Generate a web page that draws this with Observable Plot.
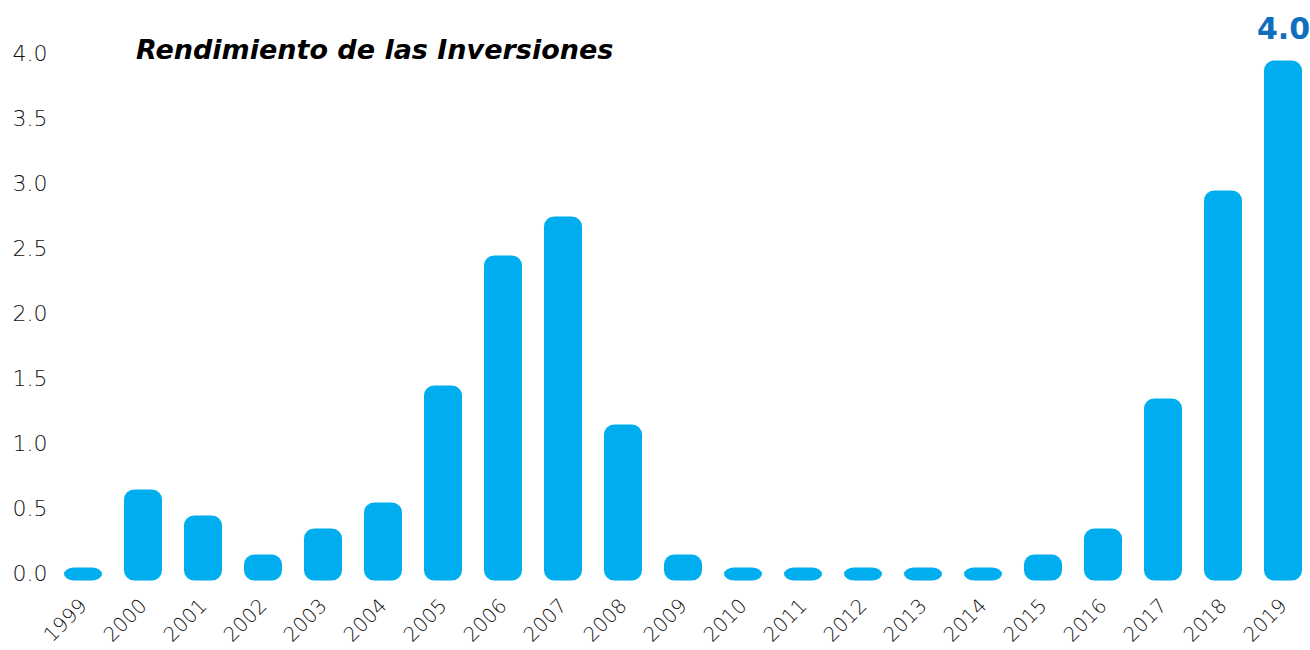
<!DOCTYPE html>
<html>
<head>
<meta charset="utf-8">
<script src="https://cdn.jsdelivr.net/npm/d3@7"></script>
<script src="https://cdn.jsdelivr.net/npm/@observablehq/plot@0.6"></script>
<style>
  html, body { margin: 0; padding: 0; background: #fff; }
  #wrap { position: relative; width: 1310px; height: 650px; }
  #title { position: absolute; left: 136px; top: 34px; font-family: "DejaVu Sans", sans-serif; font-weight: 700; font-style: italic; font-size: 27px; color: #000; }
  svg g[aria-label$="axis tick label"] text { font-weight: 200; }
  svg g[aria-label="x-axis tick label"] text { font-size: 20px; }
  svg g[aria-label="text"] text { font-weight: 700; }
</style>
</head>
<body>
<div id="wrap">
  <div id="chart"></div>
  <div id="title">Rendimiento de las Inversiones</div>
</div>
<script>
const years = ["1999","2000","2001","2002","2003","2004","2005","2006","2007","2008","2009","2010","2011","2012","2013","2014","2015","2016","2017","2018","2019"];
const values = [0.0,0.6,0.4,0.1,0.3,0.5,1.4,2.4,2.7,1.1,0.1,0.0,0.0,0.0,0.0,0.0,0.1,0.3,1.3,2.9,3.9];
const yTicks = [0,0.5,1,1.5,2,2.5,3,3.5,4];
const highlightYear = ["2019"];
const highlightText = ["4.0"];

const data = years.map((y, i) => ({year: y, value: values[i]}));
const labelData = highlightYear.map((y, i) => ({year: y, value: values[years.indexOf(y)], text: highlightText[i]}));

const chart = Plot.plot({
  width: 1310,
  height: 650,
  marginTop: 53,
  marginBottom: 77,
  marginLeft: 56,
  marginRight: 0,
  style: {fontFamily: "'DejaVu Sans', sans-serif", fontSize: "22px", color: "#111", background: "#fff"},
  x: {domain: years, paddingInner: 0.367, paddingOuter: 0.133, label: null, tickSize: 0, tickRotate: -45, tickPadding: 29},
  y: {domain: [0, 4], ticks: yTicks, tickFormat: d3.format(".1f"), label: null, tickSize: 0, tickPadding: 9},
  marks: [
    Plot.barY(data, {x: "year", y: "value", fill: "#00aeef", insetTop: -5.5, insetBottom: -7.5, rx: 10}),
    Plot.text(labelData, {x: "year", y: "value", text: "text", dy: -28, lineAnchor: "bottom", fill: "#0e6fbf", fontSize: 30, fontWeight: 700, fontFamily: "'DejaVu Sans', sans-serif"})
  ]
});
document.getElementById("chart").appendChild(chart);
</script>
</body>
</html>
